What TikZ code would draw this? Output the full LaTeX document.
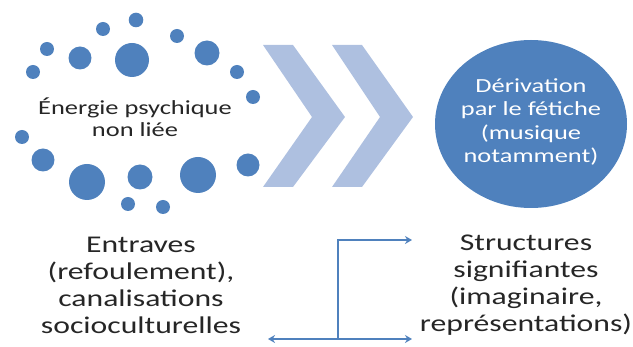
\documentclass[tikz,border=0pt]{standalone}
\usepackage{fontspec}
\setmainfont{Carlito}[FakeStretch=1.32]
\usetikzlibrary{shapes.geometric,arrows.meta}
\definecolor{officeblue}{HTML}{4F81BD}
\definecolor{chevblue}{HTML}{AEC0E0}
\definecolor{txtgray}{HTML}{262626}
\begin{document}
\begin{tikzpicture}[x=1pt,y=-1pt,
  dot/.style={fill=officeblue},
  chev/.style={fill=chevblue},
  smalltxt/.style={align=center,text=txtgray,font=\fontsize{20}{22.5}\selectfont,inner sep=0pt},
  bigtxt/.style={align=center,text=txtgray,font=\fontsize{24}{27}\selectfont,inner sep=0pt},
  conn/.style={draw=officeblue,line width=1.6pt,arrows={-Stealth[length=7pt,width=8pt]}}]
\useasboundingbox (0,0) rectangle (633,347);
% dots ring
\foreach \x/\y/\r in {136/20/7.3,103/29/7,177/36/7,47/49/7,80/58/11.5,132/60/17,
  207/53/12.5,33/72/7,237/72/7,253/97/7,22/137/7,43/160/11.5,87/182/18,
  140/177/12.5,198/175/18,248/165/11.5,128/204/7,163/207/7}
  \fill[dot] (\x,\y) circle[radius=\r];
\node[smalltxt] (energie) at (135,117) {Énergie psychique\\non liée};
% chevrons
\fill[chev] (263,45) -- (293,45) -- (345,117) -- (293,187) -- (263,187) -- (312,117) -- cycle;
\fill[chev] (332,45) -- (362,45) -- (413,117) -- (362,187) -- (332,187) -- (380,117) -- cycle;
% big circle
\node[ellipse,fill=officeblue,minimum width=192pt,minimum height=168pt,inner sep=0pt] (deriv) at (531,124) {};
\node[smalltxt,text=white,font=\fontsize{20}{23.5}\selectfont] (derivtxt) at (531,122) {Dérivation\\par le fétiche\\(musique\\notamment)};
% bottom texts
\node[bigtxt] (entraves) at (141,285) {Entraves\\(refoulement),\\canalisations\\socioculturelles};
\node[bigtxt] (structures) at (526,285) {Structures\\signifiantes\\(imaginaire,\\représentations)};
% connectors
\coordinate (j) at (338,339);
\coordinate (t) at (412,240);
\coordinate (l) at (268,339);
\coordinate (r) at (412,339);
\draw[conn] (j) |- (t);
\draw[conn,arrows={Stealth[length=7pt,width=8pt]-Stealth[length=7pt,width=8pt]}] (l) -- (r);
\end{tikzpicture}
\end{document}
